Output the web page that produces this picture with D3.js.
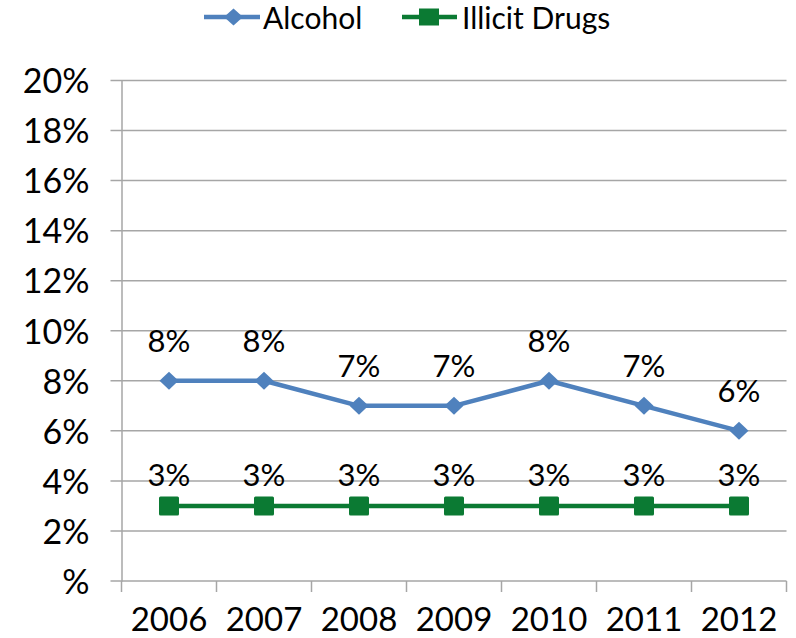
<!DOCTYPE html>
<html>
<head>
<meta charset="utf-8">
<script src="https://cdn.jsdelivr.net/npm/d3@7"></script>
<style>
  body { margin: 0; background: #fff; }
  text { font-family: Lato, "Noto Sans", sans-serif; fill: #000; }
</style>
</head>
<body>
<div id="chart"></div>
<script>
// dados do gráfico
const anos = ["2006", "2007", "2008", "2009", "2010", "2011", "2012"];
const alcool = [8, 8, 7, 7, 8, 7, 6];
const drogas = [3, 3, 3, 3, 3, 3, 3];
const ticksY = [0, 2, 4, 6, 8, 10, 12, 14, 16, 18, 20];

const W = 796, H = 638;
const margin = { top: 80.5, right: 10, bottom: 57, left: 121.5 };
const width = 786.5 - margin.left;
const height = 581 - margin.top;

const svg = d3.select("#chart").append("svg")
  .attr("width", W).attr("height", H);

const g = svg.append("g")
  .attr("transform", `translate(${margin.left}, ${margin.top})`);

const x = d3.scaleBand().domain(anos).range([0, width]);
const y = d3.scaleLinear().domain([0, 20]).range([height, 0]);

// linhas de grade
g.append("g")
  .selectAll("line")
  .data(ticksY)
  .join("line")
  .attr("x1", -11).attr("x2", width)
  .attr("y1", d => y(d)).attr("y2", d => y(d))
  .attr("stroke", "#a6a6a6").attr("stroke-width", 1.5);

// eixo Y
const eixoY = g.append("g")
  .call(d3.axisLeft(y).tickValues(ticksY).tickSize(0).tickPadding(32)
    .tickFormat(d => d === 0 ? "%" : d + "%"));
eixoY.select(".domain").attr("stroke", "#a6a6a6").attr("stroke-width", 1.5);
eixoY.selectAll("text").style("font-size", "34px").attr("dy", "0.36em");

// eixo X
const eixoX = g.append("g")
  .attr("transform", `translate(0, ${height})`)
  .call(d3.axisBottom(x).tickSize(0).tickPadding(0));
eixoX.select(".domain").remove();
eixoX.selectAll("text").style("font-size", "33px").attr("dy", null).attr("y", 50);
g.append("g")
  .selectAll("line")
  .data(d3.range(anos.length + 1))
  .join("line")
  .attr("x1", i => i * x.step()).attr("x2", i => i * x.step())
  .attr("y1", height).attr("y2", height + 11)
  .attr("stroke", "#a6a6a6").attr("stroke-width", 1.5);

const cx = d => x(d) + x.bandwidth() / 2;
const linha = d3.line().x((d, i) => cx(anos[i])).y(d => y(d));

const corAzul = "#4f81bd", corVerde = "#0b7a33";

// série Alcohol
g.append("path").datum(alcool)
  .attr("d", linha).attr("fill", "none")
  .attr("stroke", corAzul).attr("stroke-width", 4.5)
  .attr("stroke-linejoin", "round");
g.append("g").selectAll("path")
  .data(alcool)
  .join("path")
  .attr("transform", (d, i) => `translate(${cx(anos[i])}, ${y(d)})`)
  .attr("d", "M0,-9L9.5,0L0,9L-9.5,0Z")
  .attr("fill", corAzul);

// série Illicit Drugs
g.append("path").datum(drogas)
  .attr("d", linha).attr("fill", "none")
  .attr("stroke", corVerde).attr("stroke-width", 4.5);
g.append("g").selectAll("rect")
  .data(drogas)
  .join("rect")
  .attr("x", (d, i) => cx(anos[i]) - 10).attr("y", d => y(d) - 9.5)
  .attr("width", 20).attr("height", 19).attr("rx", 1.5)
  .attr("fill", corVerde);

// rótulos de dados
g.append("g").selectAll("text")
  .data(alcool)
  .join("text")
  .attr("x", (d, i) => cx(anos[i])).attr("y", d => y(d) - 29)
  .attr("text-anchor", "middle").style("font-size", "31px")
  .text(d => d + "%");
g.append("g").selectAll("text")
  .data(drogas)
  .join("text")
  .attr("x", (d, i) => cx(anos[i])).attr("y", d => y(d) - 20)
  .attr("text-anchor", "middle").style("font-size", "31px")
  .text(d => d + "%");

// legenda
const legenda = svg.append("g");
legenda.append("line").attr("x1", 204).attr("x2", 260).attr("y1", 17).attr("y2", 17)
  .attr("stroke", corAzul).attr("stroke-width", 4.5);
legenda.append("path").attr("transform", "translate(233.5,17)")
  .attr("d", "M0,-8.5L9.5,0L0,8.5L-9.5,0Z").attr("fill", corAzul);
legenda.append("text").attr("x", 263).attr("y", 29).style("font-size", "30px").text("Alcohol");
legenda.append("line").attr("x1", 402).attr("x2", 457).attr("y1", 17).attr("y2", 17)
  .attr("stroke", corVerde).attr("stroke-width", 4.5);
legenda.append("rect").attr("x", 419).attr("y", 8.5).attr("width", 20).attr("height", 17)
  .attr("fill", corVerde);
legenda.append("text").attr("x", 462).attr("y", 29).style("font-size", "30px").text("Illicit Drugs");
</script>
</body>
</html>
